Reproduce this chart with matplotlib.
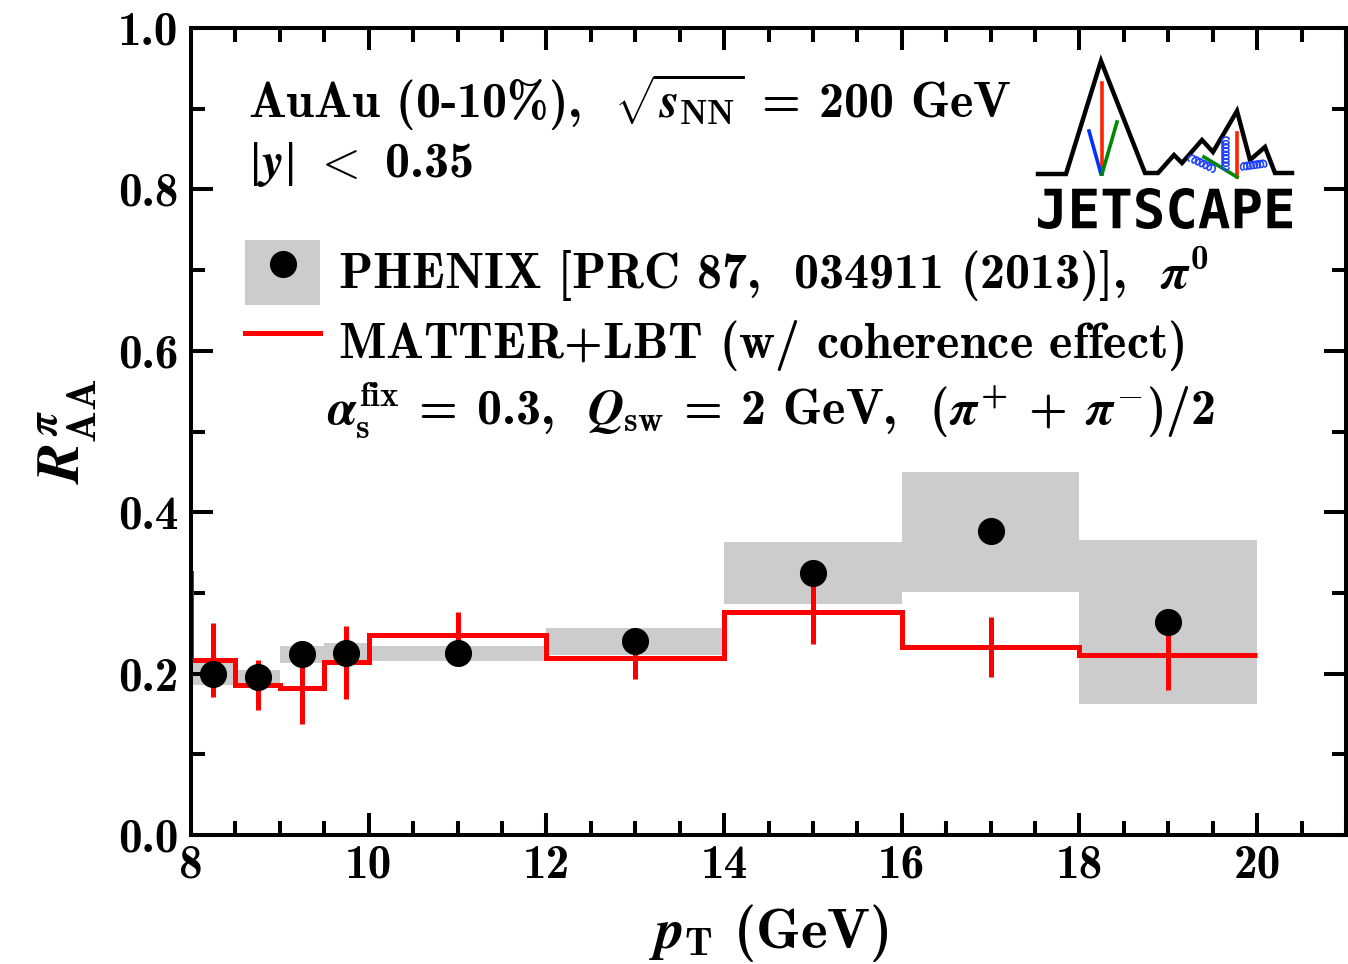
import numpy as np
import matplotlib
matplotlib.use('Agg')
import matplotlib.pyplot as plt
from matplotlib.patches import Patch, PathPatch
from matplotlib.lines import Line2D
from matplotlib.legend_handler import HandlerTuple
from matplotlib.textpath import TextPath
from matplotlib.font_manager import FontProperties
from matplotlib.transforms import Affine2D

plt.rcParams['font.family'] = 'cmb10'
plt.rcParams['mathtext.fontset'] = 'custom'
plt.rcParams['mathtext.rm'] = 'cmb10'
plt.rcParams['mathtext.bf'] = 'cmb10'
plt.rcParams['mathtext.it'] = 'STIXGeneral:italic:bold'
plt.rcParams['mathtext.sf'] = 'cmmi10'
plt.rcParams['mathtext.fallback'] = 'cm'
plt.rcParams['axes.unicode_minus'] = False

# PHENIX pi0 R_AA, AuAu 0-10%
pt_edges = [8.0, 8.5, 9.0, 9.5, 10.0, 12.0, 14.0, 16.0, 18.0, 20.0]
pt_centers = [8.25, 8.75, 9.25, 9.75, 11.0, 13.0, 15.0, 17.0, 19.0]
phenix_raa = [0.200, 0.196, 0.224, 0.225, 0.226, 0.240, 0.325, 0.377, 0.264]
phenix_sys_lo = [0.186, 0.184, 0.213, 0.217, 0.216, 0.223, 0.286, 0.301, 0.162]
phenix_sys_hi = [0.214, 0.205, 0.234, 0.238, 0.234, 0.256, 0.363, 0.450, 0.366]

# MATTER+LBT histogram (first bin lies below the plotted range)
model_edges = [7.5, 8.0, 8.5, 9.0, 9.5, 10.0, 12.0, 14.0, 16.0, 18.0, 20.0]
model_raa = [0.325, 0.217, 0.186, 0.182, 0.214, 0.248, 0.219, 0.276, 0.233, 0.223]
model_err = [0.046, 0.031, 0.045, 0.045, 0.028, 0.026, 0.039, 0.037, 0.043]

W, H = 1348, 964
fig = plt.figure(figsize=(W / 100, H / 100), dpi=100)
ax = fig.add_axes([191 / W, 1 - 835 / H, 1155 / W, 807 / H])

def px(x, y):
  return x / W, 1 - y / H

# systematic boxes
lo = np.array(phenix_sys_lo)
hi = np.array(phenix_sys_hi)
ax.bar(pt_centers, hi - lo, bottom=lo, width=np.diff(pt_edges), color='#cccccc', linewidth=0, zorder=1)

# model
ax.stairs(model_raa, model_edges, baseline=None, color='#ff0000', linewidth=3.6, zorder=2)
ax.errorbar(pt_centers, model_raa[1:], yerr=model_err, fmt='none', ecolor='#ff0000', elinewidth=3.6, capsize=0, zorder=2)

# data points
ax.plot(pt_centers, phenix_raa, 'o', color='black', markersize=18.5, zorder=3)

ax.set_xlim(8, 21)
ax.set_ylim(0, 1)
ax.set_xticks([8, 10, 12, 14, 16, 18, 20])
ax.set_xticks(np.arange(8, 21.01, 0.5), minor=True)
ax.set_yticks(np.arange(0, 1.01, 0.2))
ax.set_yticks(np.arange(0, 1.01, 0.1), minor=True)
ax.set_yticklabels(['0.0', '0.2', '0.4', '0.6', '0.8', '1.0'])
ax.tick_params(which='both', direction='in', top=True, right=True, width=2.9, labelsize=34)
ax.tick_params(which='major', length=16, pad=9)
ax.tick_params(which='minor', length=10)
ax.tick_params(axis='x', pad=7)
for s in ax.spines.values():
  s.set_linewidth(2.9)

ax.set_xlabel(r'$p_{\mathrm{T}}$ (GeV)', fontsize=41, labelpad=11)
ax.set_ylabel(r'$R^{\pi}_{\mathrm{AA}}$', fontsize=43, labelpad=14)

# legend
box = Patch(facecolor='#cccccc', edgecolor='none')
dot = Line2D([], [], marker='o', color='black', linestyle='none', markersize=18.5)
red = Line2D([], [], color='#ff0000', linewidth=3.6)
ax.legend([(box, dot), red],
          [r'PHENIX [PRC 87,  034911 (2013)],  $\pi^0$', r'MATTER$+$LBT (w/ coherence effect)'],
          handler_map={tuple: HandlerTuple(ndivide=1)},
          loc='upper left', bbox_to_anchor=px(245, 240), bbox_transform=fig.transFigure,
          frameon=False, fontsize=36, borderpad=0, borderaxespad=0,
          handlelength=1.5, handleheight=1.62, handletextpad=0.37, labelspacing=0.08)

fig.text(*px(248, 118), r'AuAu (0-10%),  $\sqrt{s_{\mathrm{NN}}}\;=\;$200 GeV', fontsize=36, va='baseline')
fig.text(*px(248, 177), '$\u2223 y \u2223$ $\\mathsf{<}$ 0.35', fontsize=36, va='baseline')
fig.text(*px(327, 425), r'$\alpha_{\mathrm{s}}^{\mathrm{fix}}\;=\;$0.3,  $Q_{\mathrm{sw}}\;=\;$2 GeV,  $(\pi^{+}\;+\;\pi^{-})/2$',
         fontsize=36, va='baseline')

# JETSCAPE logo
logo = fig.add_axes([1030 / W, 1 - 240 / H, 270 / W, 190 / H])
logo.set_xlim(1030, 1300)
logo.set_ylim(240, 50)
logo.axis('off')

mx = [1038, 1066, 1101, 1145, 1158, 1174, 1182, 1202, 1213, 1237, 1250, 1265, 1275, 1292]
my = [174, 174, 61, 173, 173, 155, 163, 140, 152, 111, 160, 147, 173, 173]
logo.plot(mx, my, color='black', linewidth=3.2, solid_joinstyle='miter')
logo.plot([1102, 1102], [83, 174], color='#ff2200', linewidth=2.6)
logo.plot([1089, 1101], [131, 174], color='#0033ff', linewidth=2.6)
logo.plot([1117, 1102], [122, 174], color='#008800', linewidth=2.6)
logo.plot([1237, 1237], [133, 177], color='#ff2200', linewidth=2.6)
logo.plot([1204, 1237], [157, 177], color='#008800', linewidth=2.6)

def coil(p0, p1, n, r):
  t = np.linspace(0, 1, 600)
  p0 = np.array(p0, float)
  p1 = np.array(p1, float)
  d = p1 - p0
  L = np.hypot(*d)
  u = d / L
  v = np.array([-u[1], u[0]])
  along = L * t - 0.8 * r * np.sin(2 * np.pi * n * t)
  perp = r * np.cos(2 * np.pi * n * t) - r
  pts = p0[:, None] + u[:, None] * along + v[:, None] * perp
  logo.plot(pts[0], pts[1], color='#2244ff', linewidth=1.2)

coil((1229, 168), (1229, 139), 8, 3.5)
coil((1189, 161), (1212, 172), 6, 3.5)
coil((1243, 170), (1265, 167), 7, 3.5)

tp = TextPath((0, 0), 'JETSCAPE', prop=FontProperties(family='DejaVu Sans Mono', weight='bold'))
bb = tp.get_extents()
tr = Affine2D().translate(-bb.x0, -bb.y0).scale(254 / bb.width, -41 / bb.height).translate(1038, 229)
logo.add_patch(PathPatch(tr.transform_path(tp), facecolor='black', edgecolor='none'))

fig.savefig('out.png', dpi=100)
